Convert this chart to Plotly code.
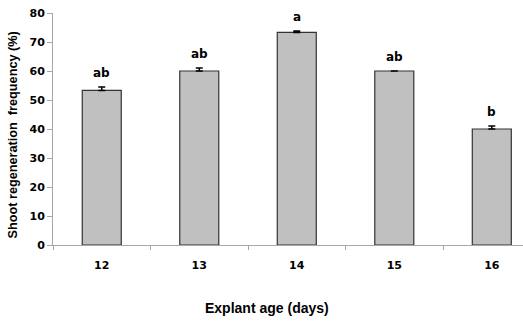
import plotly.graph_objects as go

categories = ["12", "13", "14", "15", "16"]
values = [53.3, 60.0, 73.3, 60.0, 40.0]
errors = [1.2, 1.0, 0.5, None, 1.0]
letters = ["ab", "ab", "a", "ab", "b"]
y_ticks = [0, 10, 20, 30, 40, 50, 60, 70, 80]

tick_font = dict(family="DejaVu Sans", size=11, color="black", weight="bold")

fig = go.Figure()
fig.add_trace(go.Bar(
    x=categories, y=values, width=0.4,
    marker=dict(color="#c0c0c0", line=dict(color="#333333", width=1.2)),
    error_y=dict(type="data", symmetric=False, array=errors,
                 arrayminus=[0] * len(errors), color="black",
                 thickness=1.5, width=3.5),
    showlegend=False,
))

for i, (v, e, t) in enumerate(zip(values, errors, letters)):
    fig.add_annotation(x=i, y=v + (e or 0), text=t, showarrow=False,
                       yanchor="bottom", yshift=5,
                       font=dict(family="DejaVu Sans", size=12, color="black", weight="bold"))

fig.add_annotation(xref="paper", yref="paper", x=(267 - 53) / 470, y=-(307.5 - 245) / 232,
                   text="Explant age (days)", showarrow=False, yanchor="middle",
                   font=dict(family="Liberation Sans", size=14, color="black", weight="bold"))

fig.add_annotation(xref="paper", yref="paper", x=(12.5 - 53) / 470, y=(245 - 135) / 232,
                   text="Shoot regeneration  frequency (%)", showarrow=False, textangle=-90,
                   xanchor="center", yanchor="middle",
                   font=dict(family="Liberation Sans", size=12.7, color="black", weight="bold"))

fig.update_layout(
    width=523, height=322,
    margin=dict(l=53, r=0, t=13, b=77),
    paper_bgcolor="white", plot_bgcolor="white",
    bargap=0.6,
)
fig.update_xaxes(
    type="category", range=[-0.5, 4.32],
    showline=True, linecolor="#a6a6a6", linewidth=1,
    ticks="outside", tickson="boundaries", ticklen=4, tickcolor="#a6a6a6",
    tickfont=tick_font, ticklabelstandoff=10, showgrid=False, zeroline=False,
)
fig.update_yaxes(
    range=[0, 80], tickvals=y_ticks,
    showline=True, linecolor="#a6a6a6", linewidth=1,
    ticks="outside", ticklen=5, tickcolor="#a6a6a6",
    tickfont=tick_font, showgrid=False, zeroline=False,
)

fig.write_html("out.html")
